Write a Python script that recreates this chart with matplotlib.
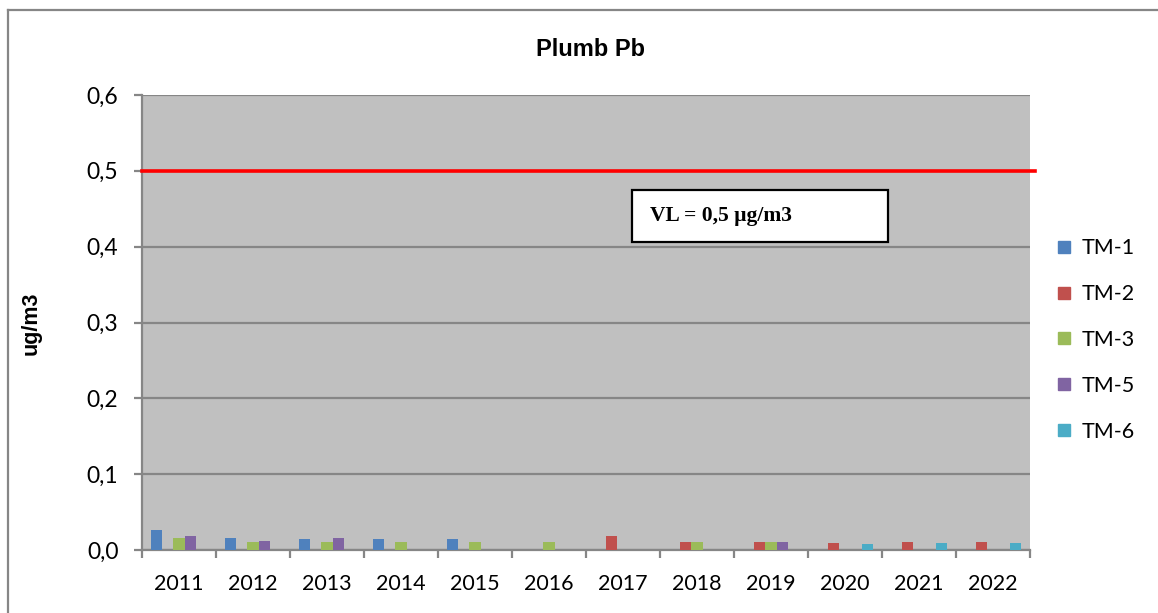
#!/bin/python3
# coding: utf-8
from matplotlib import pyplot as plt
from matplotlib.lines import Line2D
from matplotlib.patches import Rectangle
import numpy as np

years = ['2011', '2012', '2013', '2014', '2015', '2016',
         '2017', '2018', '2019', '2020', '2021', '2022']
series = ['TM-1', 'TM-2', 'TM-3', 'TM-5', 'TM-6']
n = np.nan
tm1 = [0.026, 0.016, 0.014, 0.014, 0.014, n, n, n, n, n, n, n]
tm2 = [n, n, n, n, n, n, 0.018, 0.011, 0.011, 0.009, 0.011, 0.011]
tm3 = [0.016, 0.011, 0.011, 0.011, 0.011, 0.011, n, 0.011, 0.011, n, n, n]
tm5 = [0.019, 0.012, 0.016, n, n, n, n, n, 0.011, n, n, n]
tm6 = [n, n, n, n, n, n, n, n, n, 0.0075, 0.009, 0.009]
vl = 0.5
colors = ['#4F81BD', '#C0504D', '#9BBB59', '#8064A2', '#4BACC6']

fig = plt.figure(figsize=(11.58, 6.13), dpi=100)
ax = fig.add_axes([142/1158, 1-550/613, (1030-142)/1158, (550-95)/613])
ax.set_facecolor('#C0C0C0')

x = np.arange(len(years))
w = 1/6.5
for i, (vals, c, lab) in enumerate(zip([tm1, tm2, tm3, tm5, tm6], colors, series)):
    ax.bar(x + (i-2)*w, vals, w, color=c, label=lab, zorder=3)

ax.set_xlim(-0.5, len(years)-0.5)
ax.set_ylim(0, 0.6)
ax.set_yticks(np.arange(0, 0.61, 0.1))
ax.set_yticklabels(['0,0', '0,1', '0,2', '0,3', '0,4', '0,5', '0,6'],
                   fontsize=16.5, family='Lato')
ax.yaxis.grid(True, color='#868686', lw=1.6, zorder=1)
ax.set_axisbelow(True)
ax.set_xticks(x)
ax.set_xticklabels(years, fontsize=15.5, family='Lato')
ax.set_xticks(np.arange(-0.5, len(years)), minor=True)
ax.tick_params(axis='x', which='major', length=0, pad=17)
ax.tick_params(axis='x', which='minor', length=6, width=1.6, color='#868686')
ax.tick_params(axis='y', length=6, width=1.6, color='#868686', pad=11)
for s in ['top', 'right']:
    ax.spines[s].set_visible(False)
for s in ['left', 'bottom']:
    ax.spines[s].set_color('#868686')
    ax.spines[s].set_linewidth(1.6)

ax.plot([0, 1.006], [vl, vl], color='#FF0000', lw=2.6,
        transform=ax.get_yaxis_transform(), clip_on=False, zorder=4)

# limit value label box
ax.add_patch(Rectangle((0.5518, 0.677), 0.2883, 0.1143, transform=ax.transAxes,
                       fc='white', ec='black', lw=1.6, zorder=5))
ax.text(0.5721, 0.734, u'VL = 0,5 \u00b5g/m3', transform=ax.transAxes,
        family='Liberation Serif', fontweight='bold', fontsize=15.5,
        va='center', ha='left', zorder=6)

fig.text(590/1158, 1-49/613, 'Plumb Pb', ha='center', va='center',
         family='Liberation Sans', fontweight='bold', fontsize=17)
fig.text(31/1158, 1-323/613, 'ug/m3', ha='center', va='center', rotation=90,
         family='Liberation Sans', fontweight='bold', fontsize=15.5)

handles = [Line2D([], [], marker='s', ls='', color=c, markersize=8) for c in colors]
fig.legend(handles, series, loc='center left', bbox_to_anchor=(1028/1158, 1-340/613),
           frameon=False, prop={'family': 'Lato', 'size': 15.5},
           labelspacing=1.2, handletextpad=0.1, handlelength=1.5)

# chart area border
fig.add_artist(Line2D([8/1158, 1], [1-10/613, 1-10/613], color='#868686', lw=1.6))
fig.add_artist(Line2D([8/1158, 8/1158], [0, 1-10/613], color='#868686', lw=1.6))

plt.savefig('out.png', dpi=100)
